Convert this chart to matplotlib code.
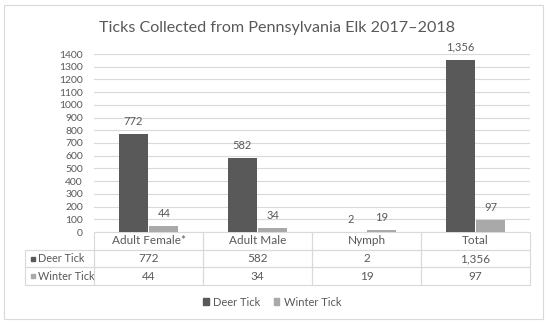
import numpy as np
import matplotlib
matplotlib.use("Agg")
import matplotlib.pyplot as plt
from matplotlib.patches import Rectangle, Patch

plt.rcParams["font.family"] = ["Lato", "DejaVu Sans"]

categories = ["Adult Female*", "Adult Male", "Nymph", "Total"]
deer_tick = [772, 582, 2, 1356]
winter_tick = [44, 34, 19, 97]
series_names = ["Deer Tick", "Winter Tick"]
yticks = list(range(0, 1401, 100))

dark = "#595959"
light = "#a9a9a9"
grid_c = "#d9d9d9"
text_c = "#595959"

fig = plt.figure(figsize=(5.5, 3.25), dpi=100)
ax = fig.add_axes([94 / 550, 1 - 232 / 325, 436 / 550, 178 / 325])

x = np.arange(len(categories))
w = 0.266
off = 0.142
b1 = ax.bar(x - off, deer_tick, w, color=dark, zorder=3)
b2 = ax.bar(x + off, winter_tick, w, color=light, zorder=3)

def fmt(v):
    return f"{v:,}"

for bars, vals in [(b1, deer_tick), (b2, winter_tick)]:
    for r, v in zip(bars, vals):
        ax.annotate(fmt(v), (r.get_x() + r.get_width() / 2, v),
                    xytext=(0, 5), textcoords="offset points",
                    ha="center", va="bottom", fontsize=8, color=text_c,
                    annotation_clip=False)

ax.set_xlim(-0.5, len(categories) - 0.5)
ax.set_ylim(0, 1400)
ax.set_yticks(yticks)
ax.set_yticklabels([str(t) for t in yticks], fontsize=7.5, color=text_c)
ax.set_xticks([])
ax.tick_params(axis="y", length=0, pad=8)
ax.grid(axis="y", color=grid_c, linewidth=0.8, zorder=0)
for s in ax.spines.values():
    s.set_visible(False)

# data table under the chart
lab_w = 69 / 436
cell_text = [[""] + categories]
for name, vals in zip(series_names, [deer_tick, winter_tick]):
    cell_text.append([name] + [fmt(v) for v in vals])
col_w = [lab_w] + [1 / len(categories)] * len(categories)
tbl = ax.table(cellText=cell_text, colWidths=col_w, cellLoc="center",
               bbox=[-lab_w, -53 / 178, 1 + lab_w, 53 / 178])
tbl.auto_set_font_size(False)
for (r, c), cell in tbl.get_celld().items():
    cell.set_edgecolor(grid_c)
    cell.set_facecolor("none")
    cell.set_linewidth(0.8)
    cell.get_text().set_color(text_c)
    cell.get_text().set_fontsize(8.5)
    if c == 0:
        cell._loc = "left"
        cell.get_text().set_ha("left")
        cell.get_text().set_fontsize(7.8)
        cell.PAD = 0.19
tbl[0, 0].set_linewidth(0)

# legend keys inside the table row labels
row_h = 53 / 178 / 3
for i, col in enumerate([dark, light]):
    yk = -row_h * (1.5 + i)
    ax.plot([-lab_w + 0.018], [yk], marker="s", markersize=3.3, color=col,
            transform=ax.transAxes, clip_on=False)

fig.text(277 / 550, 1 - 28 / 325, "Ticks Collected from Pennsylvania Elk 2017\u20132018",
         ha="center", va="center", fontsize=11.6, color=text_c)

handles = [Patch(color=dark), Patch(color=light)]
fig.legend(handles, series_names, loc="center", bbox_to_anchor=(0.495, 1 - 302 / 325),
           ncol=2, frameon=False, fontsize=8, labelcolor=text_c,
           handlelength=0.5, handleheight=0.5, handletextpad=0.4, columnspacing=1.2)

fig.patches.append(Rectangle((4 / 550, 6 / 325), 539 / 550, 314 / 325,
                             transform=fig.transFigure, fill=False,
                             edgecolor=grid_c, linewidth=0.8))

fig.savefig("out.png", dpi=100)
